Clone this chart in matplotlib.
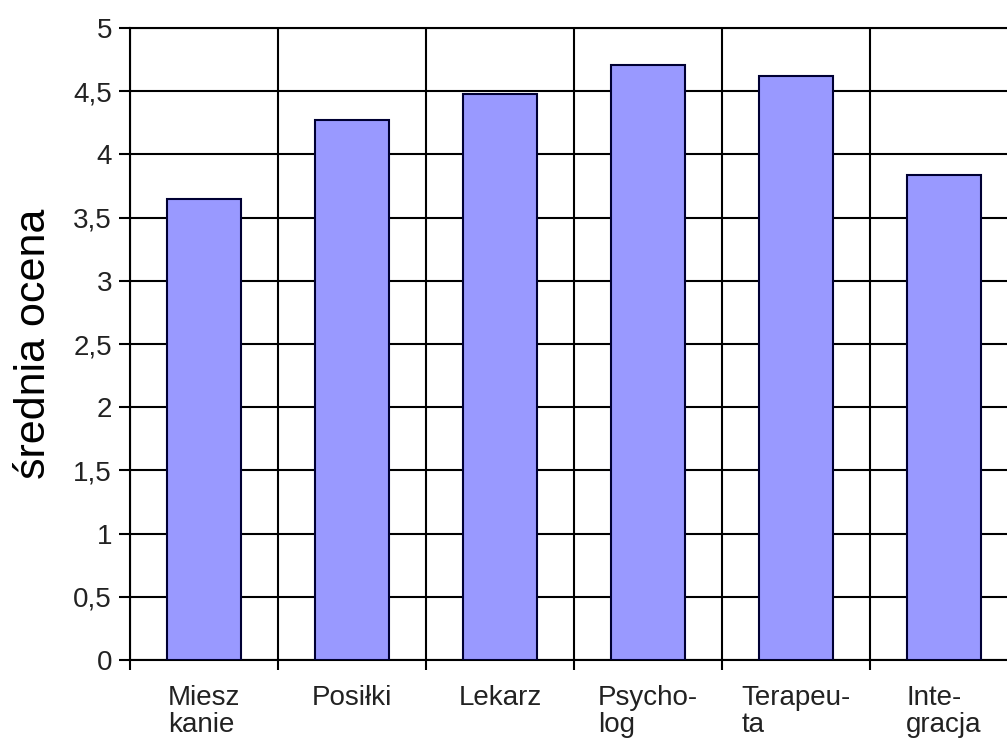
import numpy as np
import matplotlib
matplotlib.use('Agg')
import matplotlib.pyplot as plt
from matplotlib.ticker import FixedLocator

categories = ['Miesz\nkanie', 'Posiłki', 'Lekarz', 'Psycho-\nlog', 'Terapeu-\nta', 'Inte-\ngracja']
values = [3.65, 4.27, 4.48, 4.71, 4.62, 3.84]
y_ticks = [0, 0.5, 1, 1.5, 2, 2.5, 3, 3.5, 4, 4.5, 5]
y_tick_labels = ['0', '0,5', '1', '1,5', '2', '2,5', '3', '3,5', '4', '4,5', '5']

plt.rcParams['font.family'] = ['Liberation Sans', 'DejaVu Sans']

fig = plt.figure(figsize=(10.07, 7.4), dpi=100)
# the plot runs a little past the right edge, as in the reference
ax = fig.add_axes([130 / 1007, 80 / 740, 888 / 1007, 632 / 740])

x = np.arange(len(categories))
ax.bar(x, values, width=0.5, color='#9999ff', edgecolor='#000033',
       linewidth=1.5, zorder=3)

ax.set_xlim(-0.5, len(categories) - 0.5)
ax.set_ylim(0, 5)
ax.set_yticks(y_ticks)
ax.set_yticklabels(y_tick_labels, fontsize=20, color='#222222')
ax.set_xticks(x)
ax.set_xticklabels(categories, fontsize=20, color='#222222',
                   ha='center', multialignment='left', linespacing=1.05)
ax.xaxis.set_minor_locator(FixedLocator(np.arange(-0.5, len(categories), 1)))

ax.tick_params(axis='x', which='major', length=0, pad=18)
ax.tick_params(axis='x', which='minor', length=7, width=1.5, direction='out')
ax.tick_params(axis='y', length=8, width=1.5, direction='out', pad=5)

ax.grid(axis='y', which='major', color='black', linewidth=1.5, zorder=1)
ax.grid(axis='x', which='minor', color='black', linewidth=1.5, zorder=1)
ax.set_axisbelow(True)

for side in ['left', 'top', 'bottom']:
    ax.spines[side].set_linewidth(1.5)
ax.spines['right'].set_visible(False)

ax.set_ylabel('średnia ocena', fontsize=31, labelpad=14)

fig.savefig('out.png', dpi=100)
